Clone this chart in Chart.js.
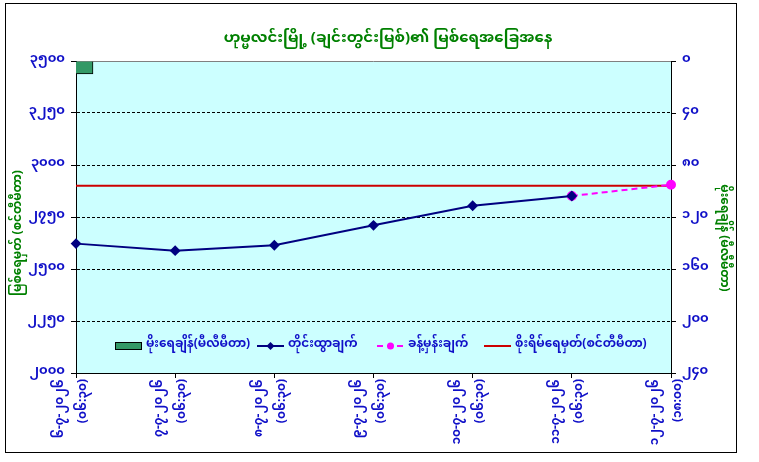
<!DOCTYPE html>
<html>
<head>
<meta charset="utf-8">
<script src="https://cdn.jsdelivr.net/npm/chart.js@4/dist/chart.umd.min.js"></script>
<style>
  html, body { margin: 0; padding: 0; background: #fff; }
</style>
</head>
<body>
<canvas id="river-chart" width="759" height="462"></canvas>
<script>
// chart data
const dateLabels = ['၆-၇-၂၀၂၆', '၇-၇-၂၀၂၆', '၈-၇-၂၀၂၆', '၉-၇-၂၀၂၆', '၁၀-၇-၂၀၂၆', '၁၁-၇-၂၀၂၆', '၁၂-၇-၂၀၂၆'];
const timeLabels = ['(၀၆:၃၀)', '(၀၆:၃၀)', '(၀၆:၃၀)', '(၀၆:၃၀)', '(၀၆:၃၀)', '(၀၆:၃၀)', '(၁၈:၀၀)'];
const rainfall = [10, null, null, null, null, null, null];
const observed = [2622, 2588, 2614, 2710, 2804, 2851, null];
const forecast = [null, null, null, null, null, 2851, 2905];
const dangerLevel = [2900, 2900, 2900, 2900, 2900, 2900, 2900];
const levelTickValues = [2000, 2250, 2500, 2750, 3000, 3250, 3500];
const levelTicks = ['၂၀၀၀', '၂၂၅၀', '၂၅၀၀', '၂၇၅၀', '၃၀၀၀', '၃၂၅၀', '၃၅၀၀'];
const rainTickValues = [0, 40, 80, 120, 160, 200, 240];
const rainTicks = ['၀', '၄၀', '၈၀', '၁၂၀', '၁၆၀', '၂၀၀', '၂၄၀'];
const seriesNames = ['မိုးရေချိန်(မီလီမီတာ)', 'တိုင်းထွာချက်', 'ခန့်မှန်းချက်', 'စိုးရိမ်ရေမှတ်(စင်တီမီတာ)'];
const chartTitle = 'ဟုမ္မလင်းမြို့ (ချင်းတွင်းမြစ်)၏ မြစ်ရေအခြေအနေ';
const levelAxisTitle = 'မြစ်ရေမှတ် (စင်တီမီတာ)';
const rainAxisTitle = 'မိုးရေချိန် (မီလီမီတာ)';

const FONT = '"Noto Sans Myanmar", "Noto Sans Myanmar UI", Padauk, "Myanmar Text", "Noto Sans", sans-serif';
const BLUE = '#1010c8';
const GREEN = '#008000';

// background, frame, titles, two-line date labels and the legend inside the plot
const decorations = {
  id: 'decorations',
  beforeDraw(chart) {
    const { ctx, chartArea: a } = chart;
    ctx.save();
    ctx.fillStyle = '#fff';
    ctx.fillRect(0, 0, chart.width, chart.height);
    ctx.strokeStyle = '#000';
    ctx.lineWidth = 1;
    ctx.strokeRect(5.5, 3.5, 731, 449);
    ctx.fillStyle = '#ccffff';
    ctx.fillRect(a.left, a.top, a.right - a.left, a.bottom - a.top);
    ctx.strokeStyle = '#808080';
    ctx.beginPath();
    ctx.moveTo(a.left, a.top + 0.5);
    ctx.lineTo(a.right, a.top + 0.5);
    ctx.stroke();
    ctx.restore();
  },
  afterDraw(chart) {
    const { ctx } = chart;
    const xs = chart.scales.x;
    ctx.save();
    ctx.fillStyle = GREEN;
    ctx.font = 'bold 15px ' + FONT;
    ctx.textAlign = 'center';
    ctx.textBaseline = 'middle';
    ctx.fillText(chartTitle, 388, 40);

    // axis titles
    ctx.font = 'bold 12px ' + FONT;
    ctx.save();
    ctx.translate(20, 233);
    ctx.rotate(-Math.PI / 2);
    ctx.fillText(levelAxisTitle, 0, 0);
    ctx.restore();
    ctx.save();
    ctx.translate(722, 238);
    ctx.rotate(Math.PI / 2);
    ctx.fillText(rainAxisTitle, 0, 0);
    ctx.restore();

    // x labels: date on the left of the tick, time on the right, reading upward
    ctx.fillStyle = BLUE;
    ctx.font = 'bold 12px ' + FONT;
    ctx.textAlign = 'right';
    ctx.textBaseline = 'middle';
    dateLabels.forEach((d, i) => {
      const px = xs.getPixelForTick(i);
      [[d, px - 14], [timeLabels[i], px + 9]].forEach(([t, cx]) => {
        ctx.save();
        ctx.translate(cx, xs.top + 6);
        ctx.rotate(-Math.PI / 2);
        ctx.fillText(t, 0, 0);
        ctx.restore();
      });
    });

    // legend
    const y = 346;
    const starts = [115, 257, 377, 484];
    ctx.font = 'bold 12px ' + FONT;
    ctx.textAlign = 'left';
    chart.data.datasets.forEach((ds, i) => {
      const x = starts[i];
      ctx.setLineDash([]);
      if (ds.type === 'bar') {
        ctx.fillStyle = ds.backgroundColor;
        ctx.fillRect(x, y - 4, 27, 8);
        ctx.strokeStyle = '#000';
        ctx.lineWidth = 1;
        ctx.strokeRect(x + 0.5, y - 3.5, 26, 7);
      } else {
        ctx.strokeStyle = ds.borderColor;
        ctx.lineWidth = 2;
        ctx.setLineDash(ds.borderDash || []);
        ctx.beginPath();
        ctx.moveTo(x, y);
        ctx.lineTo(x + 27, y);
        ctx.stroke();
        ctx.setLineDash([]);
        if (ds.pointRadius > 0) {
          ctx.fillStyle = ds.borderColor;
          ctx.beginPath();
          if (ds.pointStyle === 'rectRot') {
            ctx.moveTo(x + 13.5, y - 4);
            ctx.lineTo(x + 17.5, y);
            ctx.lineTo(x + 13.5, y + 4);
            ctx.lineTo(x + 9.5, y);
          } else {
            ctx.arc(x + 13.5, y, 3.5, 0, Math.PI * 2);
          }
          ctx.fill();
        }
      }
      ctx.fillStyle = BLUE;
      ctx.textBaseline = 'middle';
      ctx.fillText(ds.label, x + 31, y);
    });
    ctx.restore();
  }
};

const chart = new Chart(document.getElementById('river-chart').getContext('2d'), {
  type: 'line',
  data: {
    labels: dateLabels,
    datasets: [
      {
        type: 'bar',
        label: seriesNames[0],
        data: rainfall,
        yAxisID: 'yRain',
        backgroundColor: '#339966',
        borderColor: '#000',
        borderWidth: 1,
        barThickness: 34,
        order: 4
      },
      {
        label: seriesNames[1],
        data: observed,
        yAxisID: 'yLevel',
        borderColor: '#000080',
        backgroundColor: '#000080',
        borderWidth: 2,
        pointStyle: 'rectRot',
        pointRadius: 4,
        tension: 0,
        order: 1
      },
      {
        label: seriesNames[2],
        data: forecast,
        yAxisID: 'yLevel',
        borderColor: '#ff00ff',
        backgroundColor: '#ff00ff',
        borderWidth: 2,
        borderDash: [6, 4],
        pointStyle: 'circle',
        pointRadius: 4,
        order: 2
      },
      {
        label: seriesNames[3],
        data: dangerLevel,
        yAxisID: 'yLevel',
        borderColor: '#cc0000',
        backgroundColor: '#cc0000',
        borderWidth: 2,
        pointRadius: 0,
        order: 3
      }
    ]
  },
  options: {
    responsive: false,
    animation: false,
    layout: { padding: { top: 61, left: 0, right: 0, bottom: 0 } },
    plugins: {
      legend: { display: false },
      title: { display: false },
      tooltip: { enabled: false }
    },
    scales: {
      x: {
        type: 'category',
        offset: false,
        grid: { display: true, drawOnChartArea: false, offset: false, tickLength: 5, color: '#000' },
        border: { color: '#000', width: 1 },
        ticks: { display: false, autoSkip: false },
        afterFit(s) { s.height = 89; }
      },
      yLevel: {
        position: 'left',
        min: 2000,
        max: 3500,
        ticks: {
          stepSize: 250,
          padding: 6,
          color: BLUE,
          font: { family: FONT, size: 13, weight: 'bold' },
          callback: v => levelTicks[levelTickValues.indexOf(v)]
        },
        grid: {
          color: ctx => (ctx.tick && (ctx.tick.value === 3500 || ctx.tick.value === 2000)) ? 'rgba(0,0,0,0)' : '#000',
          tickColor: '#000',
          tickLength: 5
        },
        border: { color: '#000', width: 1, dash: [3, 2] },
        afterFit(s) { s.width = 76; }
      },
      yRain: {
        position: 'right',
        min: 0,
        max: 240,
        reverse: true,
        ticks: {
          stepSize: 40,
          padding: 6,
          color: BLUE,
          font: { family: FONT, size: 13, weight: 'bold' },
          callback: v => rainTicks[rainTickValues.indexOf(v)]
        },
        grid: { drawOnChartArea: false, tickLength: 5, color: '#000' },
        border: { color: '#000', width: 1 },
        afterFit(s) { s.width = 88; }
      }
    }
  },
  plugins: [decorations]
});
</script>
</body>
</html>
